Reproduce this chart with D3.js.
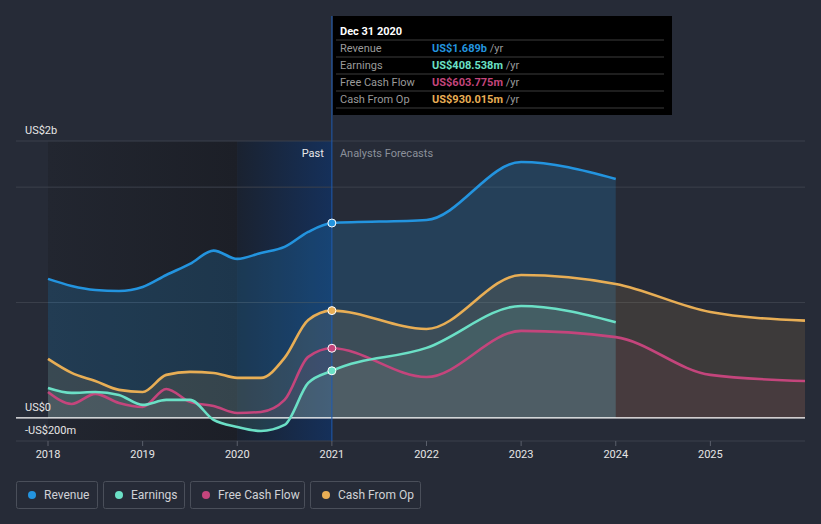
<!DOCTYPE html>
<html><head><meta charset="utf-8">
<script src="https://cdn.jsdelivr.net/npm/d3@7"></script>
<style>
html,body{margin:0;padding:0;background:#262b37;}
svg{display:block;font-family:Roboto,"Open Sans",sans-serif;}
</style></head><body>
<svg id="c" width="821" height="524"></svg>
<script>
// ---- data (values in US$ billions) ----
const pastDates = [2018.0,2018.25,2018.5,2018.75,2019.0,2019.25,2019.5,2019.75,2020.0,2020.25,2020.5,2020.75,2021.0];
const revenuePast  = [1.205,1.144,1.109,1.100,1.135,1.239,1.335,1.450,1.378,1.430,1.482,1.612,1.689];
const earningsPast = [0.260,0.217,0.225,0.199,0.113,0.156,0.156,-0.017,-0.078,-0.113,-0.061,0.303,0.4085];
const fcfPast      = [0.225,0.121,0.208,0.130,0.095,0.251,0.139,0.104,0.043,0.052,0.156,0.529,0.6038];
const cfoPast      = [0.511,0.390,0.320,0.243,0.225,0.373,0.399,0.390,0.347,0.347,0.520,0.849,0.930];

const fcDatesShort = [2022,2023,2024];
const fcDatesLong  = [2022,2023,2024,2025,2026];
const revenueFc  = [1.716,2.218,2.071];
const earningsFc = [0.607,0.970,0.830];
const fcfFc      = [0.355,0.754,0.700,0.373,0.320];
const cfoFc      = [0.771,1.239,1.161,0.918,0.843];

const yTicks = [2.4, 0, -0.2];
const yTickLabels = ["US$2b","US$0","-US$200m"];
const yGrid = [2.4, 2, 1, -0.2];
const xTicks = [2018,2019,2020,2021,2022,2023,2024,2025];

const seriesNames = ["Revenue","Earnings","Free Cash Flow","Cash From Op"];
const seriesColors = ["#2394df","#6be0c6","#c4457c","#e8ae55"];
const tooltipValues = ["US$1.689b","US$408.538m","US$603.775m","US$930.015m"];

// ---- build ----
const svg = d3.select("#c");
const x = d3.scaleLinear().domain([2018,2026]).range([48,805]);
const y = d3.scaleLinear().domain([-0.2,2.4]).range([441,141]);

const defs = svg.append("defs");
const g1 = defs.append("linearGradient").attr("id","pastDark").attr("x1","0").attr("x2","1");
g1.append("stop").attr("offset","0").attr("stop-color","#222630");
g1.append("stop").attr("offset","1").attr("stop-color","#1c1f27");
const g2 = defs.append("linearGradient").attr("id","pastBlue").attr("x1","0").attr("x2","1");
g2.append("stop").attr("offset","0").attr("stop-color","#1a2230");
g2.append("stop").attr("offset","1").attr("stop-color","#15305a");

// past shading
svg.append("rect").attr("x",x(2018)).attr("y",y(2.4)).attr("width",x(2020)-x(2018)).attr("height",y(-0.2)-y(2.4)).attr("fill","url(#pastDark)");
svg.append("rect").attr("x",x(2020)).attr("y",y(2.4)).attr("width",x(2021)-x(2020)).attr("height",y(-0.2)-y(2.4)).attr("fill","url(#pastBlue)");

// grid
svg.selectAll("line.grid").data(yGrid).join("line")
  .attr("x1",16).attr("x2",805).attr("y1",d=>y(d)).attr("y2",d=>y(d))
  .attr("stroke","#3b404c").attr("stroke-width",1);

const series = [
  {dates: pastDates.concat(fcDatesShort), vals: revenuePast.concat(revenueFc)},
  {dates: pastDates.concat(fcDatesShort), vals: earningsPast.concat(earningsFc)},
  {dates: pastDates.concat(fcDatesLong),  vals: fcfPast.concat(fcfFc)},
  {dates: pastDates.concat(fcDatesLong),  vals: cfoPast.concat(cfoFc)}
].map((s,i)=>({pts: s.dates.map((d,j)=>({x:d,v:s.vals[j]})), color: seriesColors[i]}));

const area = d3.area().x(d=>x(d.x)).y0(y(0)).y1(d=>y(d.v)).curve(d3.curveMonotoneX);
const line = d3.line().x(d=>x(d.x)).y(d=>y(d.v)).curve(d3.curveMonotoneX);
const areaOp = [0.2,0.13,0.08,0.12];

series.forEach((s,i)=>{
  svg.append("path").attr("d",area(s.pts)).attr("fill",s.color).attr("fill-opacity",areaOp[i]);
});
// zero line
svg.append("line").attr("x1",16).attr("x2",805).attr("y1",y(0)).attr("y2",y(0)).attr("stroke","#ffffff").attr("stroke-width",1.2);

[3,2,1,0].forEach(i=>{
  const s = series[i];
  svg.append("path").attr("d",line(s.pts)).attr("fill","none").attr("stroke",s.color).attr("stroke-width",2.6);
});

// y labels
svg.selectAll("text.yl").data(yTicks).join("text")
  .attr("x",25).attr("y",d=>y(d)-7).attr("fill","#e6e6e6").attr("font-size",11)
  .text((d,i)=>yTickLabels[i]);

// x axis
svg.selectAll("line.xt").data(xTicks).join("line")
  .attr("x1",d=>x(d)).attr("x2",d=>x(d)).attr("y1",441).attr("y2",446).attr("stroke","#5a5f6b");
svg.selectAll("text.xl").data(xTicks).join("text")
  .attr("x",d=>x(d)).attr("y",458).attr("text-anchor","middle").attr("fill","#e6e6e6").attr("font-size",11)
  .text(d=>d);

// Past / Forecast labels
svg.append("text").attr("x",x(2021)-8).attr("y",157).attr("text-anchor","end").attr("fill","#e8e8e8").attr("font-size",11).text("Past");
svg.append("text").attr("x",x(2021)+8).attr("y",157).attr("fill","#8b909a").attr("font-size",11).text("Analysts Forecasts");

// vertical marker line
svg.append("line").attr("x1",x(2021)).attr("x2",x(2021)).attr("y1",16).attr("y2",441).attr("stroke","#1f5bb0").attr("stroke-width",1);

// dots
series.forEach(s=>{
  const p = s.pts.find(d=>d.x===2021);
  svg.append("circle").attr("cx",x(p.x)).attr("cy",y(p.v)).attr("r",4).attr("fill",s.color).attr("stroke","#ffffff").attr("stroke-width",1);
});

// tooltip
const tt = svg.append("g");
tt.append("rect").attr("x",333).attr("y",16).attr("width",339).attr("height",99).attr("fill","#000000");
tt.append("text").attr("x",340).attr("y",35).attr("fill","#ffffff").attr("font-size",11).attr("font-weight","bold").text("Dec 31 2020");
const rowY = [40,57,74,91,108];
rowY.forEach(r=>tt.append("line").attr("x1",336).attr("x2",664).attr("y1",r).attr("y2",r).attr("stroke","#3c3c3c"));
seriesNames.forEach((n,i)=>{
  const by = rowY[i]+12;
  tt.append("text").attr("x",340).attr("y",by).attr("fill","#9a9a9a").attr("font-size",11).text(n);
  const t = tt.append("text").attr("x",432).attr("y",by).attr("font-size",11);
  t.append("tspan").attr("fill",seriesColors[i]).attr("font-weight","bold").text(tooltipValues[i]);
  t.append("tspan").attr("fill","#9a9a9a").text(" /yr");
});

// legend
const legX = [16,103,190,310], legW = [81,81,114,110];
seriesNames.forEach((n,i)=>{
  const lg = svg.append("g").attr("transform",`translate(${legX[i]},481)`);
  lg.append("rect").attr("x",0.5).attr("y",0.5).attr("width",legW[i]).attr("height",27).attr("rx",2).attr("fill","none").attr("stroke","#4a4f5a");
  lg.append("circle").attr("cx",16).attr("cy",14).attr("r",4).attr("fill",seriesColors[i]);
  lg.append("text").attr("x",28).attr("y",18).attr("fill","#d0d2d6").attr("font-size",12).text(n);
});
</script>
</body></html>
